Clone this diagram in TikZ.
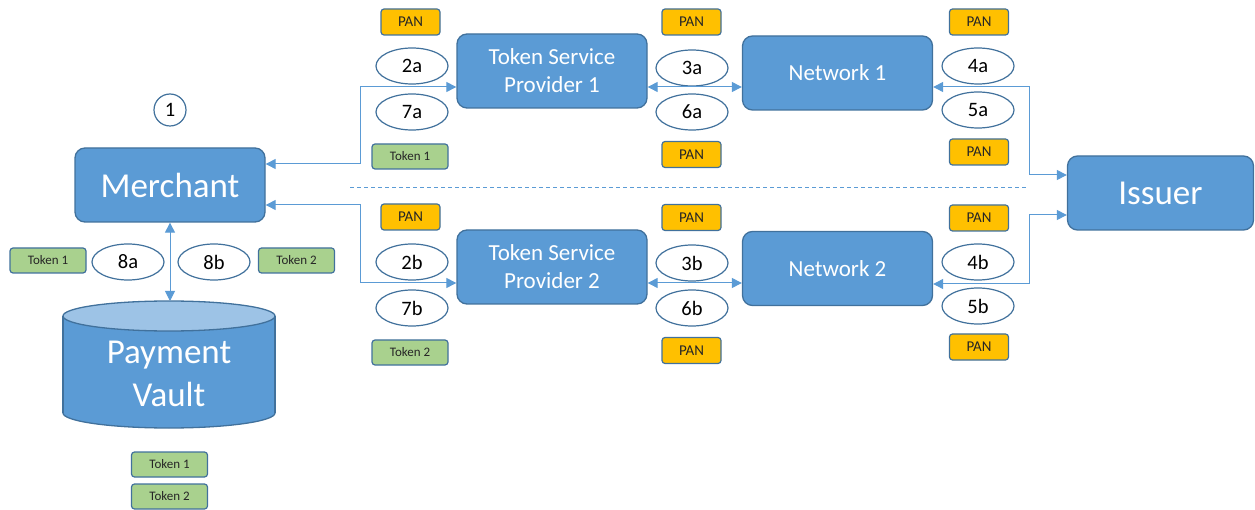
\documentclass[tikz,border=0pt]{standalone}
\usepackage{fontspec}
\setmainfont{Carlito}
\usetikzlibrary{shapes.geometric,arrows.meta}
\definecolor{boxblue}{HTML}{5B9BD5}
\definecolor{edgeblue}{HTML}{41719C}
\definecolor{topblue}{HTML}{9DC3E6}
\definecolor{pangold}{HTML}{FFC000}
\definecolor{tokgreen}{HTML}{A9D18E}
\definecolor{linkblue}{HTML}{5B9BD5}
\definecolor{darktext}{HTML}{262626}
\begin{document}
\begin{tikzpicture}[x=1pt,y=-1pt,
  bigbox/.style={draw=edgeblue,fill=boxblue,line width=1.3pt,rounded corners=10pt,
    minimum width=190pt,minimum height=74pt,inner sep=0pt,text=white,align=center},
  hugefont/.style={font=\fontsize{35}{43}\selectfont},
  midfont/.style={font=\fontsize{23}{28}\selectfont},
  steplabel/.style={ellipse,draw=edgeblue,fill=white,line width=1.2pt,minimum width=72pt,
    minimum height=36pt,inner sep=0pt,font=\fontsize{20.5}{24}\selectfont},
  pantag/.style={draw=edgeblue,fill=pangold,line width=1.2pt,rounded corners=3pt,
    minimum width=59pt,minimum height=26pt,inner sep=0pt,text=darktext,font=\fontsize{15}{18}\selectfont},
  tokentag/.style={draw=edgeblue,fill=tokgreen,line width=1.2pt,rounded corners=3pt,
    minimum width=76pt,minimum height=25pt,inner sep=0pt,text=darktext,font=\fontsize{13}{15}\selectfont},
  link/.style={draw=linkblue,line width=1pt,{Triangle[length=10pt,width=10pt]}-{Triangle[length=10pt,width=10pt]}},
]
\useasboundingbox (0,0) rectangle (1255,510);

% step 1 circle
\node[circle,draw=edgeblue,line width=1.2pt,minimum size=32pt,inner sep=0pt,font=\fontsize{20.5}{24}\selectfont] (one) at (170,110) {1};

% main boxes
\node[bigbox,hugefont] (merchant) at (170,185) {Merchant};
\node[bigbox,midfont] (tsp1) at (552,71) {Token Service\\Provider 1};
\node[bigbox,midfont] (net1) at (837.5,73) {Network 1};
\node[bigbox,midfont] (tsp2) at (552,267) {Token Service\\Provider 2};
\node[bigbox,midfont] (net2) at (837.5,268.5) {Network 2};
\node[bigbox,hugefont,minimum width=186pt] (issuer) at (1160.5,193) {Issuer};

% payment vault cylinder
\filldraw[fill=boxblue,draw=edgeblue,line width=1.3pt] (169,413) ellipse[x radius=106,y radius=15];
\fill[boxblue] (63,316) rectangle (275,413);
\draw[edgeblue,line width=1.3pt] (63,316) -- (63,413) (275,316) -- (275,413);
\filldraw[fill=topblue,draw=edgeblue,line width=1.3pt] (169,316) ellipse[x radius=106,y radius=15];
\coordinate (vtop) at (170,301);
\node[hugefont,text=white,align=center,inner sep=0pt] (vault) at (169,374) {Payment\\Vault};

% merchant / vault labels
\node[tokentag] (tokml) at (48,260.5) {Token 1};
\node[steplabel] (l8a) at (128,262) {8a};
\node[steplabel] (l8b) at (214,262) {8b};
\node[tokentag] (tokmr) at (296.5,260.5) {Token 2};
\node[tokentag] (tokv1) at (169.5,464.5) {Token 1};
\node[tokentag] (tokv2) at (169.5,496.5) {Token 2};

% top row labels
\node[pantag] (pan1) at (410.5,22) {PAN};
\node[steplabel] (l2a) at (412,66) {2a};
\node[steplabel] (l7a) at (412,112) {7a};
\node[tokentag] (tok1a) at (410,156.5) {Token 1};
\node[pantag] (pan2) at (691.5,22) {PAN};
\node[steplabel] (l3a) at (692,68) {3a};
\node[steplabel] (l6a) at (692,112) {6a};
\node[pantag] (pan3) at (691.5,154.5) {PAN};
\node[pantag] (pan4) at (979,22) {PAN};
\node[steplabel] (l4a) at (978,66) {4a};
\node[steplabel] (l5a) at (978,110) {5a};
\node[pantag] (pan5) at (979,152) {PAN};

% bottom row labels
\node[pantag] (pan6) at (410.5,217) {PAN};
\node[steplabel] (l2b) at (412,262) {2b};
\node[steplabel] (l7b) at (412,308) {7b};
\node[tokentag] (tok2b) at (410,352.5) {Token 2};
\node[pantag] (pan7) at (691.5,217.5) {PAN};
\node[steplabel] (l3b) at (692,263) {3b};
\node[steplabel] (l6b) at (692,308) {6b};
\node[pantag] (pan8) at (691.5,350.5) {PAN};
\node[pantag] (pan9) at (979,218) {PAN};
\node[steplabel] (l4b) at (978,262) {4b};
\node[steplabel] (l5b) at (978,306) {5b};
\node[pantag] (pan10) at (979,347) {PAN};

% connectors
\draw[link] (merchant.south) -- (vtop);
\draw[link] ([yshift=21pt]merchant.east) -- ++(95,0) |- ([yshift=-16pt]tsp1.west);
\draw[link] ([yshift=-20pt]merchant.east) -- ++(95,0) |- ([yshift=-16pt]tsp2.west);
\coordinate (a1) at ([yshift=-16pt]tsp1.east);
\coordinate (a2) at ([yshift=-16pt]tsp2.east);
\draw[link] (a1) -- (a1 -| net1.west);
\draw[link] (a2) -- (a2 -| net2.west);
\draw[link] ([yshift=-14pt]net1.east) -- ++(96,0) |- ([yshift=18pt]issuer.west);
\draw[link] ([yshift=-15.5pt]net2.east) -- ++(96,0) |- ([yshift=-22pt]issuer.west);

% separator
\coordinate (sepL) at (350,188);
\coordinate (sepR) at (1028,188);
\draw[linkblue,line width=1pt,dash pattern=on 4pt off 3pt] (sepL) -- (sepR);
\end{tikzpicture}
\end{document}
